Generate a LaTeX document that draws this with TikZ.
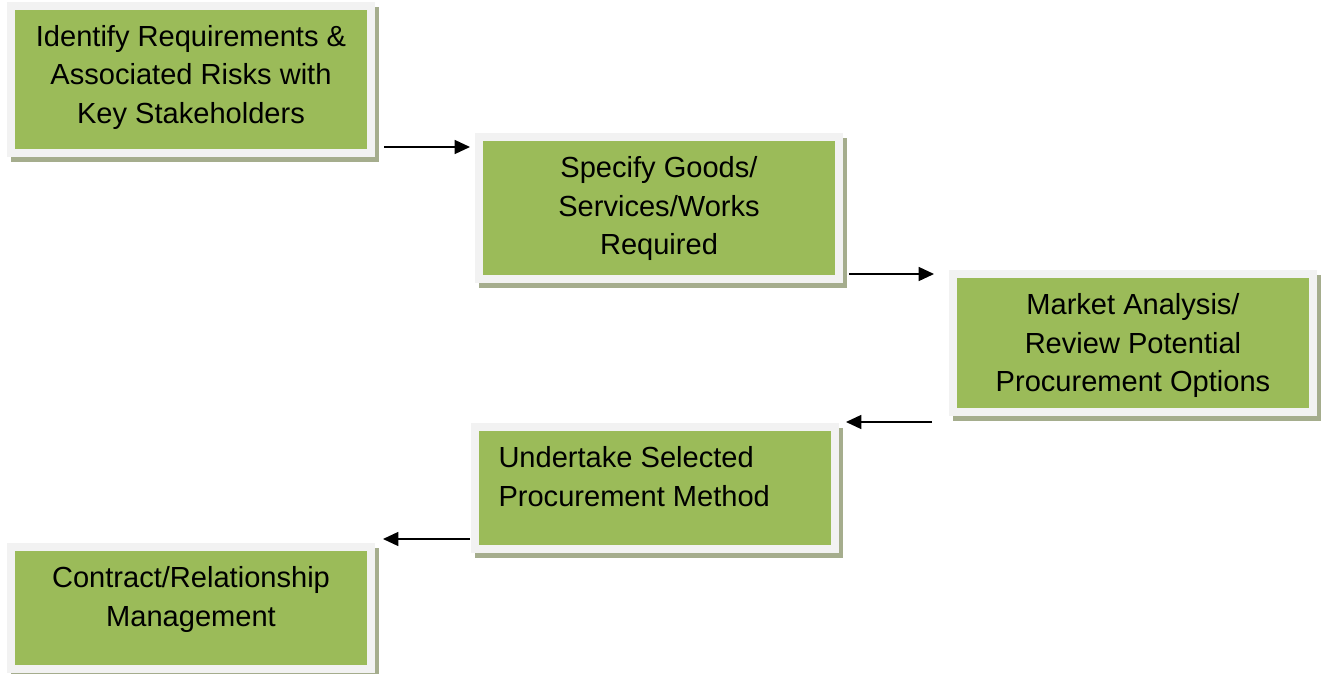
\documentclass[tikz,border=0pt]{standalone}
\usepackage{fontspec}
\setmainfont{Liberation Sans}
\usetikzlibrary{arrows.meta,shadows}
\definecolor{stepgreen}{HTML}{9BBB59}
\definecolor{steprim}{HTML}{F2F2F2}
\definecolor{stepshade}{HTML}{A5AD8D}
% text of a step: height of the box, top aligned
\newcommand{\steptext}[3][\centering]{%
	\parbox[c][#2][t]{270pt}{#1\fontsize{21.8pt}{28.9pt}\selectfont\rule{0pt}{30.5pt}#3}}

\begin{document}
\begin{tikzpicture}[x=0.75pt,y=-0.75pt]
\tikzstyle{stepbox} = [
	shape=rectangle,
	fill=stepgreen, %green inside
	draw=steprim, %light rim round it
	line width=6pt,
	inner sep=0pt,
	minimum width=270pt,
	drop shadow={shadow xshift=3pt, shadow yshift=-3.75pt, opacity=1, fill=stepshade, draw=stepshade, line width=6pt}
];
\useasboundingbox (0,0) rectangle (1325,674);

%steps
\node[stepbox](Ident) at (191,79.5) {\steptext{110.6pt}{Identify Requirements \&\\Associated Risks with\\Key Stakeholders}};
\node[stepbox](Spec) at (659,208) {\steptext{106.5pt}{Specify Goods/\\Services/Works\\Required}};
\node[stepbox](Market) at (1133,343) {\steptext{103.5pt}{Market Analysis/\\Review Potential\\Procurement Options}};
\node[stepbox](Under) at (654.5,488) {\steptext[\raggedright\leftskip=18pt]{91.5pt}{Undertake Selected\\Procurement Method}};
\node[stepbox](Contr) at (191,608) {\steptext{91.5pt}{Contract/Relationship\\Management}};

%loose ends of the arrows
\coordinate (IdentOut) at (384,147);
\coordinate (SpecIn) at (470,147);
\coordinate (SpecOut) at (849,274);
\coordinate (MarketIn) at (934,274);
\coordinate (MarketOut) at (932,422);
\coordinate (UnderIn) at (846,422);
\coordinate (UnderOut) at (470,539);
\coordinate (ContrIn) at (383,539);

\path[-{Triangle[length=11.5pt,width=10.5pt]}, line width=1.1pt, color=black]
	(IdentOut) edge[] (SpecIn)
	(SpecOut) edge[] (MarketIn)
	(MarketOut) edge[] (UnderIn)
	(UnderOut) edge[] (ContrIn)
;
\end{tikzpicture}
\end{document}
